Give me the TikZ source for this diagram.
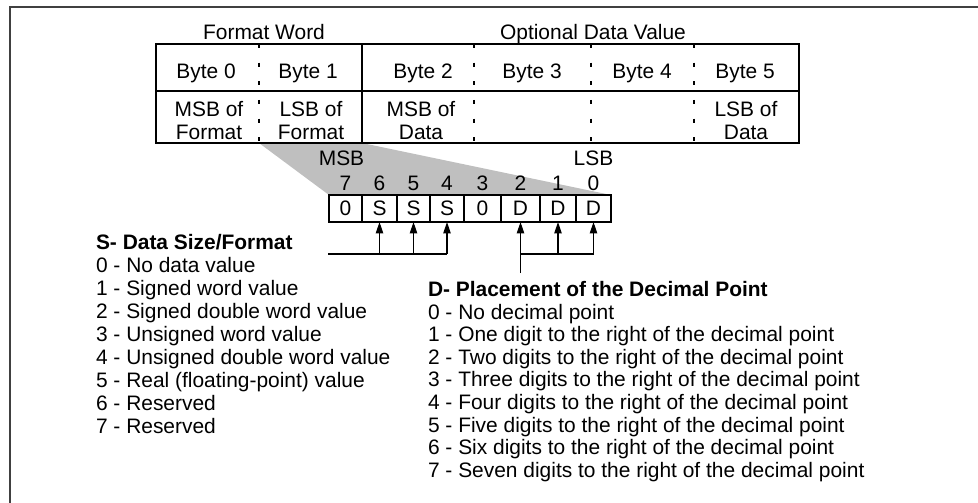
\documentclass[tikz,border=0pt]{standalone}
\usepackage{fontspec}
\setmainfont{Liberation Sans}
\usetikzlibrary{arrows.meta,positioning}

\begin{document}
\begin{tikzpicture}[x=0.75pt,y=-0.75pt,line width=0.8pt,
  every node/.style={font=\fontsize{15.7}{17.25}\selectfont,inner sep=0pt},
  sparse/.style={dash pattern=on 3pt off 11pt},
  bitcell/.style={draw,anchor=north west,minimum height=20.25pt,outer sep=0pt},
  bitarrow/.style={-{Triangle[length=8.5pt,width=5.5pt]}},
  listhead/.style={anchor=base west,font=\fontsize{15.7}{17.25}\selectfont\bfseries},
  listitem/.style={anchor=base west}]
\useasboundingbox (0,0) rectangle (978,503);
% outer frame, cut by the page
\draw[line width=1.3pt,black!75] (10,503) -- (10,7) -- (978,7);

% projection of byte 1 onto the bits
\coordinate (fmtl) at (259,143);
\coordinate (fmtr) at (362,143);
\fill[black!25] (fmtl) -- (fmtr) -- (611,195) -- (329,195) -- cycle;

% byte table
\draw (156,44) rectangle (799,143);
\draw (156,91) -- (799,91);
\draw (fmtr) -- (362,44);
\foreach \x in {259,474,591,694}
  \draw[sparse] (\x,44) -- (\x,143);

\node[anchor=base] (fmtword) at (264,40) {Format Word};
\node[anchor=base] (optdata) at (593,40) {Optional Data Value};
\foreach \i/\x in {0/206,1/308,2/423,3/532,4/642,5/745}
  \node[anchor=base] (byte\i) at (\x,79) {Byte \i};
\node[align=center] (msbfmt) at (209,121) {MSB of\\Format};
\node[align=center] (lsbfmt) at (311,121) {LSB of\\Format};
\node[align=center] (msbdata) at (421,121) {MSB of\\Data};
\node[align=center] (lsbdata) at (746,121) {LSB of\\Data};

% the eight bits of the format word
\foreach \n/\v/\xl/\w in {7/0/329/33,6/S/362/35,5/S/397/33,4/S/430/34,
                          3/0/464/37,2/D/501/39,1/D/540/36,0/D/576/35}{
  \node[bitcell,minimum width=\w*0.75pt] (bit\n) at (\xl,195) {\v};
  \node[anchor=base] (num\n) at ([yshift=3.75pt]bit\n.north) {\n};
}
\node[anchor=base] (msb) at ([xshift=-3pt,yshift=18.75pt]num7.base) {MSB};
\node[anchor=base] (lsb) at ([yshift=18.75pt]num0.base) {LSB};

% arrows up to the S and D bits
\coordinate (sbus) at (328,254);
\coordinate (dlevel) at (0,273);
\foreach \n in {6,5,4} {
  \coordinate (sbit\n) at (bit\n.south |- sbus);
  \draw[bitarrow] (sbit\n) -- (bit\n.south);
}
\draw (sbus) -- (sbit4);
\foreach \n in {2,1,0} {
  \coordinate (dbit\n) at (bit\n.south |- sbus);
  \draw[bitarrow] (dbit\n) -- (bit\n.south);
}
\draw (dbit2) -- (dbit0);
\draw (bit2.south |- dlevel) -- (dbit2);

% S field
\node[listhead] (shead) at (95.5,249) {S- Data Size/Format};
\foreach \t [count=\k from 0] in {No data value,Signed word value,
    Signed double word value,Unsigned word value,Unsigned double word value,
    Real (floating-point) value,Reserved,Reserved}
  \node[listitem] (sval\k) at (95.5,{272.5+23*\k}) {\k\ - \t};

% D field
\node[listhead] (dhead) at (427.5,296) {D- Placement of the Decimal Point};
\foreach \t [count=\k from 0] in {No decimal point,
    One digit to the right of the decimal point,
    Two digits to the right of the decimal point,
    Three digits to the right of the decimal point,
    Four digits to the right of the decimal point,
    Five digits to the right of the decimal point,
    Six digits to the right of the decimal point,
    Seven digits to the right of the decimal point}
  \node[listitem] (dval\k) at (427.5,{319+22.6*\k}) {\k\ - \t};
\end{tikzpicture}
\end{document}
